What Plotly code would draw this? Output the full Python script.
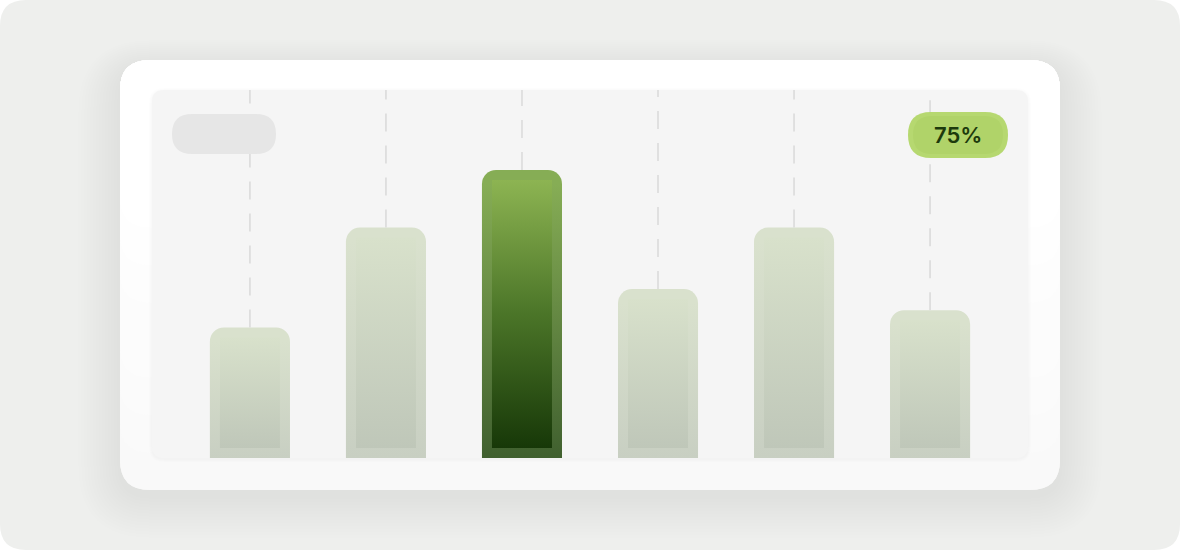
import plotly.graph_objects as go

# ---- data ----
categories = ["A", "B", "C", "D", "E", "F"]
values = [34, 60, 75, 44, 60, 38.5]
highlight_index = 2
badge_label = f"{values[highlight_index]:g}%"

# ---- geometry (pixels) ----
W, H = 1180, 550
ML, MR, MT, MB = 152, 152, 90, 92
PW, PH = W - ML - MR, H - MT - MB
Y_MAX = 95.83
X_RANGE = [-0.72, 5.72]
BAR_W = 80 / 136
CORNER = 14
px_per_x = PW / (X_RANGE[1] - X_RANGE[0])
px_per_y = PH / Y_MAX


def px(xp):
    return (xp - ML) / PW


def py(yp):
    return (H - MB - yp) / PH


def rrect(x0, y0, x1, y1, r):
    p = [
        f"M{px(x0 + r)},{py(y0)}",
        f"L{px(x1 - r)},{py(y0)}",
        f"Q{px(x1)},{py(y0)} {px(x1)},{py(y0 + r)}",
        f"L{px(x1)},{py(y1 - r)}",
        f"Q{px(x1)},{py(y1)} {px(x1 - r)},{py(y1)}",
        f"L{px(x0 + r)},{py(y1)}",
        f"Q{px(x0)},{py(y1)} {px(x0)},{py(y1 - r)}",
        f"L{px(x0)},{py(y0 + r)}",
        f"Q{px(x0)},{py(y0)} {px(x0 + r)},{py(y0)}",
        "Z",
    ]
    return " ".join(p)


shapes = []


def add_rr(x0, y0, x1, y1, r, color, layer="below"):
    shapes.append(dict(type="path", xref="paper", yref="paper",
                       path=rrect(x0, y0, x1, y1, r), fillcolor=color,
                       line=dict(width=0), layer=layer))


# page background
add_rr(0, 0, W, H, 26, "#eeefed")
# card shadow (soft halo)
for i in range(14, 0, -1):
    add_rr(120 - i * 3, 60 - i * 2 + 8, 1060 + i * 3, 490 + i * 3 + 6, 30 + i * 3,
           "rgba(0,0,0,0.003)")
# card with soft vertical shading
add_rr(120, 60, 1060, 490, 30, "#f8f8f8")
steps = 8
for k in range(steps):
    yb = 490 - 30 - k * (300 / steps)
    c = 248 + round(7 * (k + 1) / steps)
    add_rr(120, 60, 1060, yb + 30, 30, f"rgb({c},{c},{c})")
# panel shadow
for i in range(3, 0, -1):
    add_rr(152 - i, 90 - i + 1, 1028 + i, 458 + i + 1, 12 + i, "rgba(0,0,0,0.008)")
add_rr(152, 90, 1028, 458, 12, "#f5f5f5")

# pill placeholder and badge (above traces so they cover the dashes)
add_rr(172, 114, 276, 154, 20, "#e6e6e6", layer="above")
add_rr(908, 112, 1008, 158, 23, "#b6d870", layer="above")
add_rr(913, 116, 1003, 154, 19, "#b0d369", layer="above")

fig = go.Figure()

x = list(range(len(values)))

# dashed guide lines from bar top to top of panel
gx, gy = [], []
for xi, v in zip(x, values):
    gx += [xi, xi, None]
    gy += [v, Y_MAX, None]
fig.add_trace(go.Scatter(x=gx, y=gy, mode="lines",
                         line=dict(color="#d9d9d9", width=1.5, dash="18px,14px"),
                         hoverinfo="skip", showlegend=False))

HI_RING = [[0, "#40602f"], [1, "#86ad55"]]
HI_INNER = [[0, "#173808"], [0.5, "#4b7528"], [1, "#8db452"]]
LO_RING = [[0, "#c8cfc2"], [1, "#d9e1cd"]]
LO_INNER = [[0, "#bfc7b9"], [1, "#d8e1cb"]]

outer_colors = [HI_RING[1][1] if i == highlight_index else LO_RING[1][1] for i in x]
fig.add_trace(go.Bar(x=x, y=values, width=BAR_W,
                     marker=dict(color=outer_colors, cornerradius=CORNER, line=dict(width=0)),
                     showlegend=False, hoverinfo="skip"))

# shading overlays: outer ring gradient (below rounded top) and inner inset gradient
corner_y = CORNER / px_per_y
inset_x = 10 / px_per_x
inset_y = 10 / px_per_y
half_o = BAR_W / 2
half_i = BAR_W / 2 - inset_x
for xi, v in zip(x, values):
    hi = xi == highlight_index
    t = v - corner_y
    fig.add_trace(go.Scatter(
        x=[xi - half_o, xi + half_o, xi + half_o, xi - half_o, xi - half_o],
        y=[0, 0, t, t, 0], mode="lines", fill="toself",
        line=dict(width=0, color="rgba(0,0,0,0)"),
        fillgradient=dict(type="vertical", colorscale=HI_RING if hi else LO_RING),
        hoverinfo="skip", showlegend=False))
    b, t = inset_y, v - inset_y
    fig.add_trace(go.Scatter(
        x=[xi - half_i, xi + half_i, xi + half_i, xi - half_i, xi - half_i],
        y=[b, b, t, t, b], mode="lines", fill="toself",
        line=dict(width=0, color="rgba(0,0,0,0)"),
        fillgradient=dict(type="vertical", colorscale=HI_INNER if hi else LO_INNER),
        hoverinfo="skip", showlegend=False))

fig.add_annotation(xref="paper", yref="paper", x=px(958), y=py(135),
                   text=badge_label, showarrow=False,
                   font=dict(family="Inter", size=22, color="#1d3a0c", weight=600),
                   xanchor="center", yanchor="middle")

fig.update_layout(
    width=W, height=H,
    margin=dict(l=ML, r=MR, t=MT, b=MB),
    paper_bgcolor="#ffffff", plot_bgcolor="rgba(0,0,0,0)",
    shapes=shapes,
    xaxis=dict(range=X_RANGE, showgrid=False, zeroline=False, showticklabels=False,
               tickvals=x, ticktext=categories, ticks="", showline=False),
    yaxis=dict(range=[0, Y_MAX], showgrid=False, zeroline=False, showticklabels=False,
               ticks="", showline=False),
    barmode="overlay",
    showlegend=False,
)

fig.write_html("out.html", config={"displayModeBar": False},
               post_script="document.body.style.margin='0';document.body.style.overflow='hidden';")
